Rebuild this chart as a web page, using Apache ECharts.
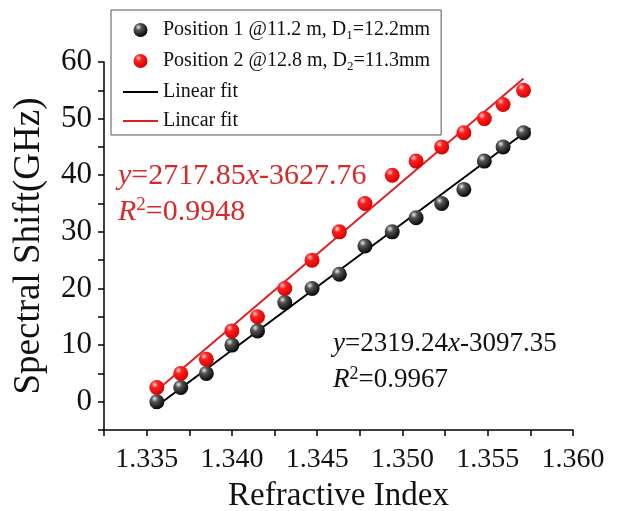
<!DOCTYPE html>
<html>
<head>
<meta charset="utf-8">
<script src="https://cdn.jsdelivr.net/npm/echarts@6/dist/echarts.min.js"></script>
<style>
  html, body { margin: 0; padding: 0; background: #fff; }
  #main { width: 642px; height: 511px; }
</style>
</head>
<body>
<div id="main"></div>
<script>
// 折射率 (x) and spectral shift (GHz)
var refIndex = [1.3356, 1.3370, 1.3385, 1.3400, 1.3415, 1.3431, 1.3447, 1.3463,
                1.3478, 1.3494, 1.3508, 1.3523, 1.3536, 1.3548, 1.3559, 1.3571];
var shiftPos1 = [0, 2.5, 5, 10, 12.5, 17.5, 20, 22.5, 27.5, 30, 32.5, 35, 37.5, 42.5, 45, 47.5];
var shiftPos2 = [2.5, 5, 7.5, 12.5, 15, 20, 25, 30, 35, 40, 42.5, 45, 47.5, 50, 52.5, 55];

// fit line end points as drawn
var fit1 = [[1.3354, -1.2], [1.3575, 48.3]];
var fit2 = [[1.3354, 1.5], [1.3571, 57.1]];

var seriesNames = ['Position 1', 'Position 2', 'Linear fit', 'Lincar fit'];
var legendLabels = {
  'Position 1': 'Position 1 @11.2 m, D{sub|1}=12.2mm',
  'Position 2': 'Position 2 @12.8 m, D{sub|2}=11.3mm',
  'Linear fit': 'Linear fit',
  'Lincar fit': 'Lincar fit'
};

var serif = "'Liberation Serif', 'Times New Roman', serif";
var lineIcon = 'path://M0,0L35,0L35,2L0,2Z';

function pairs(xs, ys) {
  var out = [];
  for (var i = 0; i < xs.length; i++) {
    out.push([xs[i], ys[i]]);
  }
  return out;
}

function sphere(light, mid, dark) {
  return {
    type: 'radial', x: 0.35, y: 0.3, r: 0.75,
    colorStops: [
      {offset: 0, color: light},
      {offset: 0.3, color: mid},
      {offset: 1, color: dark}
    ]
  };
}

var myChart = echarts.init(document.getElementById('main'));

var option = {
  backgroundColor: '#fff',
  animation: false,
  grid: {left: 104, right: 69, top: 62, bottom: 81, outerBoundsMode: 'none', containLabel: false},
  legend: {
    orient: 'vertical',
    left: 111,
    top: 10,
    padding: [10, 11, 4, 12],
    borderColor: '#555',
    borderWidth: 1,
    itemWidth: 35,
    itemHeight: 14,
    itemGap: 9,
    data: [
      {name: seriesNames[0]},
      {name: seriesNames[1]},
      {name: seriesNames[2], icon: lineIcon},
      {name: seriesNames[3], icon: lineIcon}
    ],
    formatter: function (name) { return legendLabels[name]; },
    textStyle: {
      fontFamily: serif, fontSize: 20, color: '#111',
      rich: {
        sub: {fontFamily: serif, fontSize: 13, color: '#111', padding: [11, 0, 0, 0]}
      }
    }
  },
  xAxis: {
    type: 'value',
    min: 1.3325,
    max: 1.360,
    interval: 0.0025,
    name: 'Refractive Index',
    nameLocation: 'middle',
    nameGap: 50,
    nameTextStyle: {fontFamily: serif, fontSize: 33, color: '#111'},
    axisLine: {onZero: false, lineStyle: {color: '#000', width: 1.5}},
    axisTick: {length: 6, lineStyle: {color: '#000', width: 1.5}},
    splitLine: {show: false},
    axisLabel: {
      margin: 16,
      fontFamily: serif, fontSize: 28, color: '#111',
      formatter: function (v) {
        var k = v / 0.005;
        if (Math.abs(k - Math.round(k)) > 1e-6) return '';
        return v.toFixed(3);
      }
    }
  },
  yAxis: {
    type: 'value',
    min: -5,
    max: 60,
    interval: 5,
    name: 'Spectral Shift(GHz)',
    nameLocation: 'middle',
    nameGap: 56,
    nameTextStyle: {fontFamily: serif, fontSize: 37, color: '#111'},
    axisLine: {show: true, onZero: false, lineStyle: {color: '#000', width: 1.5}},
    axisTick: {show: true, length: 6, lineStyle: {color: '#000', width: 1.5}},
    splitLine: {show: false},
    axisLabel: {
      margin: 12,
      fontFamily: serif, fontSize: 31, color: '#111',
      formatter: function (v) {
        if (v < 0 || v % 10 !== 0) return '';
        return String(v);
      }
    }
  },
  series: [
    {
      name: 'Position 1',
      type: 'scatter',
      symbolSize: 15,
      z: 4,
      itemStyle: {color: sphere('#e8e8e8', '#555', '#000'), opacity: 1},
      data: pairs(refIndex, shiftPos1)
    },
    {
      name: 'Position 2',
      type: 'scatter',
      symbolSize: 15,
      z: 4,
      itemStyle: {color: sphere('#ffd0d0', '#ff2020', '#d00000'), opacity: 1},
      data: pairs(refIndex, shiftPos2)
    },
    {
      name: 'Linear fit',
      type: 'line',
      symbol: 'none',
      z: 3,
      lineStyle: {color: '#000', width: 2},
      itemStyle: {color: '#000'},
      data: fit1
    },
    {
      name: 'Lincar fit',
      type: 'line',
      symbol: 'none',
      z: 3,
      lineStyle: {color: '#e02020', width: 2},
      itemStyle: {color: '#e02020'},
      data: fit2
    }
  ],
  graphic: [
    {
      type: 'text', left: 118, top: 158,
      style: {
        text: '{i|y}=2717.85{i|x}-3627.76\n{i|R}{sup|2}=0.9948',
        fill: '#d42a2a',
        font: '30px ' + serif,
        lineHeight: 36,
        rich: {
          i: {fontStyle: 'italic', fontFamily: serif, fontSize: 30, fill: '#d42a2a', lineHeight: 36},
          sup: {fontFamily: serif, fontSize: 19, fill: '#d42a2a', padding: [0, 0, 13, 0], lineHeight: 36}
        }
      }
    },
    {
      type: 'text', left: 333, top: 326,
      style: {
        text: '{i|y}=2319.24{i|x}-3097.35\n{i|R}{sup|2}=0.9967',
        fill: '#111',
        font: '27px ' + serif,
        lineHeight: 36,
        rich: {
          i: {fontStyle: 'italic', fontFamily: serif, fontSize: 27, fill: '#111', lineHeight: 36},
          sup: {fontFamily: serif, fontSize: 18, fill: '#111', padding: [0, 0, 12, 0], lineHeight: 36}
        }
      }
    }
  ]
};

myChart.setOption(option);
</script>
</body>
</html>
